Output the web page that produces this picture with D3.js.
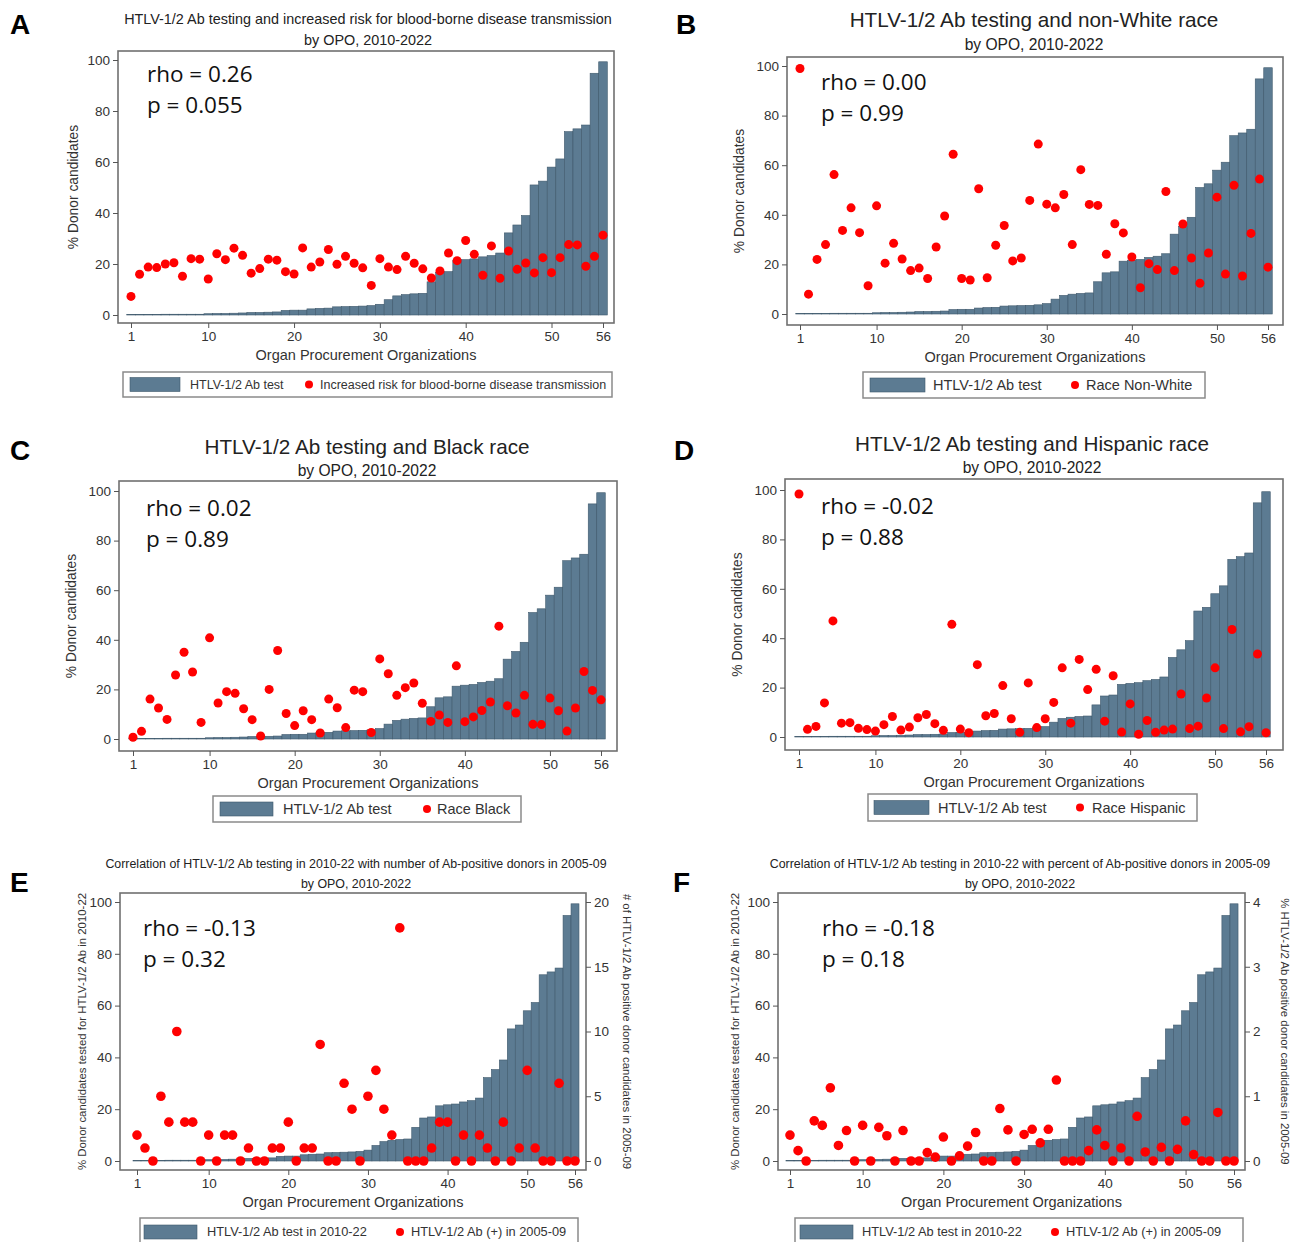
<!DOCTYPE html>
<html>
<head>
<meta charset="utf-8">
<script src="https://cdn.jsdelivr.net/npm/d3@7"></script>
<style>
  body { margin: 0; background: #fff; }
  svg { display: block; }
</style>
</head>
<body>
<div id="chart"></div>
<script>
// OPO rank (x axis categories)
var opo = [1, 2, 3, 4, 5, 6, 7, 8, 9, 10, 11, 12, 13, 14, 15, 16, 17, 18, 19, 20,
    21, 22, 23, 24, 25, 26, 27, 28, 29, 30, 31, 32, 33, 34, 35, 36, 37, 38, 39, 40,
    41, 42, 43, 44, 45, 46, 47, 48, 49, 50, 51, 52, 53, 54, 55, 56];

// % donor candidates tested for HTLV-1/2 Ab (bars, same in every panel)
var abTest = [0.2, 0.2, 0.2, 0.2, 0.3, 0.3, 0.3, 0.3, 0.3, 0.5,
    0.6, 0.6, 0.7, 0.8, 1.0, 1.0, 1.1, 1.2, 1.8, 1.9,
    1.9, 2.4, 2.6, 2.7, 3.2, 3.3, 3.4, 3.5, 3.7, 4.2,
    6.0, 7.5, 8.0, 8.3, 8.5, 13.0, 16.6, 17.0, 21.3, 21.7,
    22.0, 22.8, 23.3, 24.3, 32.2, 35.3, 39.0, 51.0, 52.5, 58.0,
    61.2, 71.9, 73.0, 74.5, 94.8, 99.3];

// red dots
var riskBlood = [7.3, 16, 18.8, 18.6, 20, 20.5, 15.2, 22.1, 21.9, 14.1,
    24, 21.7, 26.2, 23.4, 16.4, 18.2, 21.9, 21.5, 17, 16.1,
    26.3, 18.8, 20.8, 25.7, 19.9, 23, 20.3, 18.5, 11.6, 22.1,
    18.8, 17.8, 23, 20.3, 18.1, 14.5, 17.3, 24.3, 21.3, 29.2,
    23.8, 15.6, 27.1, 14.4, 25.1, 17.9, 20.4, 16.5, 22.5, 16.6,
    22.5, 27.6, 27.5, 19.1, 23, 31.3];

var raceNonWhite = [99, 8, 22, 28, 56.2, 33.7, 42.8, 32.8, 11.4, 43.6,
    20.5, 28.5, 22.2, 17.5, 18.5, 14.3, 27, 39.5, 64.4, 14.3,
    13.7, 50.5, 14.6, 27.7, 35.7, 21.4, 22.6, 45.8, 68.5, 44.3,
    42.8, 48.2, 28, 58.2, 44.2, 43.8, 24.1, 36.4, 32.7, 23,
    10.6, 20.3, 17.9, 49.4, 17.5, 36.3, 22.6, 12.4, 24.6, 47.1,
    16.1, 51.9, 15.3, 32.5, 54.4, 18.9];

var raceBlack = [0.7, 3.1, 16.1, 12.5, 7.9, 25.8, 35, 27, 6.7, 40.8,
    14.5, 19.1, 18.4, 12.2, 7.8, 1.2, 20, 35.7, 10.3, 5.4,
    11.4, 7.8, 2.4, 16.1, 12.6, 4.6, 19.7, 19.1, 2.6, 32.3,
    26.3, 17.6, 20.7, 22.6, 14.4, 7.1, 9.7, 6.7, 29.5, 7,
    8.9, 11.5, 14.9, 45.5, 13.4, 10.5, 17.6, 5.9, 5.8, 16.5,
    11.4, 3.2, 12.5, 27.2, 19.6, 15.8];

var raceHispanic = [98.4, 3.1, 4.3, 13.8, 47, 5.6, 5.8, 3.5, 3, 2.4,
    5, 8.3, 2.8, 4, 7.8, 9.1, 5.4, 2.7, 45.6, 3.2,
    1.7, 29.3, 8.6, 9.5, 20.8, 7.4, 1.9, 21.9, 3.8, 7.4,
    14, 28, 5.6, 31.4, 19.2, 27.4, 6.4, 24.8, 2, 13.4,
    1.1, 6.7, 1.9, 2.8, 3.2, 17.4, 3.4, 4.4, 15.8, 28,
    3.4, 43.5, 2.1, 4.2, 33.6, 1.7];

// # Ab-positive donors 2005-09 (right axis, panel E)
var abPosCount = [2, 1, 0, 5, 3, 10, 3, 3, 0, 2,
    0, 2, 2, 0, 1, 0, 0, 1, 1, 3,
    0, 1, 1, 9, 0, 0, 6, 4, 0, 5,
    7, 4, 2, 18, 0, 0, 0, 1, 3, 3,
    0, 2, 0, 2, 1, 0, 3, 0, 1, 7,
    1, 0, 0, 6, 0, 0];

// % Ab-positive donors 2005-09 (right axis, panel F)
var abPosPct = [0.4, 0.16, 0, 0.62, 0.55, 1.13, 0.24, 0.47, 0, 0.55,
    0, 0.52, 0.39, 0, 0.47, 0, 0, 0.13, 0.06, 0.37,
    0, 0.08, 0.23, 0.44, 0, 0, 0.81, 0.48, 0, 0.41,
    0.49, 0.28, 0.49, 1.25, 0, 0, 0, 0.16, 0.48, 0.24,
    0, 0.2, 0, 0.69, 0.14, 0, 0.21, 0, 0.18, 0.62,
    0.1, 0, 0, 0.75, 0, 0];

var xTicks = [1, 10, 20, 30, 40, 50, 56];
var yTicks = [0, 20, 40, 60, 80, 100];
var countTicks = [0, 5, 10, 15, 20];
var pctTicks = [0, 1, 2, 3, 4];

var barColor = "#5c7b92";
var dotColor = "#ff0000";
var font = "'Liberation Sans', Arial, sans-serif";

var w = 1294;
var h = 1242;

var svg = d3.select("#chart")
    .append("svg")
    .attr("width", w)
    .attr("height", h);

// panel settings (layout only, data comes from the arrays above)
var panels = [
    {
        letter: "A", lx: 10, ly: 34,
        title: ["HTLV-1/2 Ab testing and increased risk for blood-borne disease transmission", "by OPO, 2010-2022"],
        titleSize: [14.4, 14.4], titleX: 368, titleY: [24, 45],
        frame: [118, 51, 614, 323], x1: 131, x56: 603, y0: 315, y100: 60,
        dots: riskBlood, rho: "rho = 0.26", p: "p = 0.055", sx: 147, sy: 82,
        yTitle: "% Donor candidates", yTitleX: 78, yTitleSize: 13.8,
        legend: { box: [123, 372, 612, 397], size: 12.5, text1: "HTLV-1/2 Ab test", text2: "Increased risk for blood-borne disease transmission", sw: [130, 180], t1: 190, dot: 309, t2: 320 }
    },
    {
        letter: "B", lx: 676, ly: 34,
        title: ["HTLV-1/2 Ab testing and non-White race", "by OPO, 2010-2022"],
        titleSize: [20.7, 15.6], titleX: 1034, titleY: [27, 50],
        frame: [787, 57, 1283, 325], x1: 800, x56: 1268, y0: 314, y100: 66,
        dots: raceNonWhite, rho: "rho = 0.00", p: "p = 0.99", sx: 821, sy: 90,
        yTitle: "% Donor candidates", yTitleX: 744, yTitleSize: 13.8,
        legend: { box: [863, 372, 1205, 398], size: 14.5, text1: "HTLV-1/2 Ab test", text2: "Race Non-White", sw: [870, 925], t1: 933, dot: 1075, t2: 1086 }
    },
    {
        letter: "C", lx: 10, ly: 460,
        title: ["HTLV-1/2 Ab testing and Black race", "by OPO, 2010-2022"],
        titleSize: [20.7, 15.6], titleX: 367, titleY: [454, 476],
        frame: [119, 481, 617, 751], x1: 133, x56: 601, y0: 739, y100: 491,
        dots: raceBlack, rho: "rho = 0.02", p: "p = 0.89", sx: 146, sy: 516,
        yTitle: "% Donor candidates", yTitleX: 76, yTitleSize: 13.8,
        legend: { box: [213, 796, 521, 822], size: 14.5, text1: "HTLV-1/2 Ab test", text2: "Race Black", sw: [220, 273], t1: 283, dot: 427, t2: 437 }
    },
    {
        letter: "D", lx: 674, ly: 460,
        title: ["HTLV-1/2 Ab testing and Hispanic race", "by OPO, 2010-2022"],
        titleSize: [20.7, 15.6], titleX: 1032, titleY: [451, 473],
        frame: [785, 479, 1283, 750], x1: 799, x56: 1266, y0: 737, y100: 490,
        dots: raceHispanic, rho: "rho = -0.02", p: "p = 0.88", sx: 821, sy: 514,
        yTitle: "% Donor candidates", yTitleX: 742, yTitleSize: 13.8,
        legend: { box: [868, 794, 1197, 821], size: 14.5, text1: "HTLV-1/2 Ab test", text2: "Race Hispanic", sw: [874, 929], t1: 938, dot: 1080, t2: 1092 }
    },
    {
        letter: "E", lx: 10, ly: 892,
        title: ["Correlation of HTLV-1/2 Ab testing in 2010-22 with number of Ab-positive donors in 2005-09", "by OPO, 2010-2022"],
        titleSize: [12.4, 12.4], titleX: 356, titleY: [868, 888],
        frame: [120, 893, 586, 1170], x1: 137, x56: 575, y0: 1161, y100: 902,
        dots: abPosCount, rightMax: 20, rightTicks: countTicks,
        rho: "rho = -0.13", p: "p = 0.32", sx: 143, sy: 936,
        yTitle: "% Donor candidates tested for HTLV-1/2 Ab in 2010-22", yTitleX: 86, yTitleSize: 11.4,
        rTitle: "# of HTLV-1/2 Ab positive donor candidates in 2005-09", rTitleX: 623,
        legend: { box: [140, 1218, 578, 1246], size: 12.8, text1: "HTLV-1/2 Ab test in 2010-22", text2: "HTLV-1/2 Ab (+) in 2005-09", sw: [144, 197], t1: 207, dot: 400, t2: 411 }
    },
    {
        letter: "F", lx: 673, ly: 892,
        title: ["Correlation of HTLV-1/2 Ab testing in 2010-22 with percent of Ab-positive donors in 2005-09", "by OPO, 2010-2022"],
        titleSize: [12.4, 12.4], titleX: 1020, titleY: [868, 888],
        frame: [778, 893, 1245, 1170], x1: 790, x56: 1234, y0: 1161, y100: 902,
        dots: abPosPct, rightMax: 4, rightTicks: pctTicks,
        rho: "rho = -0.18", p: "p = 0.18", sx: 822, sy: 936,
        yTitle: "% Donor candidates tested for HTLV-1/2 Ab in 2010-22", yTitleX: 739, yTitleSize: 11.4,
        rTitle: "% HTLV-1/2 Ab positive donor candidates in 2005-09", rTitleX: 1281,
        legend: { box: [795, 1218, 1243, 1246], size: 12.8, text1: "HTLV-1/2 Ab test in 2010-22", text2: "HTLV-1/2 Ab (+) in 2005-09", sw: [800, 853], t1: 862, dot: 1055, t2: 1066 }
    }
];

function drawPanel(p) {
    var g = svg.append("g");
    var fr = p.frame;

    var xScale = d3.scaleLinear().domain([1, 56]).range([p.x1, p.x56]);
    var yScale = d3.scaleLinear().domain([0, 100]).range([p.y0, p.y100]);
    var dotScale = p.rightMax
        ? d3.scaleLinear().domain([0, p.rightMax]).range([p.y0, p.y100])
        : yScale;
    var bw = xScale(2) - xScale(1);

    // panel letter
    g.append("text")
        .attr("x", p.lx)
        .attr("y", p.ly)
        .attr("font-family", font)
        .attr("font-weight", "bold")
        .attr("font-size", "28px")
        .text(p.letter);

    // title
    g.selectAll("text.title")
        .data(p.title)
        .enter()
        .append("text")
        .attr("class", "title")
        .attr("x", p.titleX)
        .attr("y", function (d, i) { return p.titleY[i]; })
        .attr("text-anchor", "middle")
        .attr("font-family", font)
        .attr("font-size", function (d, i) { return p.titleSize[i] + "px"; })
        .attr("fill", "#222")
        .text(function (d) { return d; });

    // bars
    g.selectAll("rect.bar")
        .data(abTest)
        .enter()
        .append("rect")
        .attr("class", "bar")
        .attr("x", function (d, i) { return xScale(opo[i]) - bw / 2; })
        .attr("y", function (d) { return yScale(d); })
        .attr("width", bw)
        .attr("height", function (d) { return yScale(0) - yScale(d); })
        .attr("fill", barColor)
        .attr("stroke", "#3f596c")
        .attr("stroke-width", 0.6);

    // dots
    g.selectAll("circle.dot")
        .data(p.dots)
        .enter()
        .append("circle")
        .attr("class", "dot")
        .attr("cx", function (d, i) { return xScale(opo[i]); })
        .attr("cy", function (d) { return dotScale(d); })
        .attr("r", p.rightMax ? 4.8 : 4.5)
        .attr("fill", dotColor);

    // plot frame
    g.append("rect")
        .attr("x", fr[0])
        .attr("y", fr[1])
        .attr("width", fr[2] - fr[0])
        .attr("height", fr[3] - fr[1])
        .attr("fill", "none")
        .attr("stroke", "#707070")
        .attr("stroke-width", 1.6);

    // axes
    var xAxis = d3.axisBottom(xScale).tickValues(xTicks).tickSize(5).tickPadding(3);
    var yAxis = d3.axisLeft(yScale).tickValues(yTicks).tickSize(5).tickPadding(3);

    var gx = g.append("g")
        .attr("transform", "translate(0," + fr[3] + ")")
        .call(xAxis);
    var gy = g.append("g")
        .attr("transform", "translate(" + fr[0] + ",0)")
        .call(yAxis);
    var axes = [gx, gy];

    if (p.rightMax) {
        var rAxis = d3.axisRight(dotScale).tickValues(p.rightTicks)
            .tickFormat(d3.format("d")).tickSize(5).tickPadding(3);
        var gr = g.append("g")
            .attr("transform", "translate(" + fr[2] + ",0)")
            .call(rAxis);
        axes.push(gr);
    }

    axes.forEach(function (a) {
        a.select(".domain").remove();
        a.selectAll("line").attr("stroke", "#555");
        a.selectAll("text")
            .attr("font-family", font)
            .attr("font-size", "13.5px")
            .attr("fill", "#333");
    });

    // x axis title
    g.append("text")
        .attr("x", (fr[0] + fr[2]) / 2)
        .attr("y", fr[3] + 37)
        .attr("text-anchor", "middle")
        .attr("font-family", font)
        .attr("font-size", "14.5px")
        .attr("fill", "#333")
        .text("Organ Procurement Organizations");

    // y axis title
    g.append("text")
        .attr("transform", "translate(" + p.yTitleX + "," + ((fr[1] + fr[3]) / 2) + ") rotate(-90)")
        .attr("text-anchor", "middle")
        .attr("font-family", font)
        .attr("font-size", p.yTitleSize + "px")
        .attr("fill", "#333")
        .text(p.yTitle);

    if (p.rTitle) {
        g.append("text")
            .attr("transform", "translate(" + p.rTitleX + "," + ((fr[1] + fr[3]) / 2) + ") rotate(90)")
            .attr("text-anchor", "middle")
            .attr("font-family", font)
            .attr("font-size", p.yTitleSize + "px")
            .attr("fill", "#333")
            .text(p.rTitle);
    }

    // rho and p
    g.selectAll("text.stat")
        .data([p.rho, p.p])
        .enter()
        .append("text")
        .attr("class", "stat")
        .attr("x", p.sx)
        .attr("y", function (d, i) { return p.sy + i * 31; })
        .attr("font-family", "'Open Sans', 'Noto Sans', sans-serif")
        .attr("font-size", "22.5px")
        .attr("fill", "#111")
        .text(function (d) { return d; });

    // legend
    var lg = p.legend;
    var midY = (lg.box[1] + lg.box[3]) / 2;
    g.append("rect")
        .attr("x", lg.box[0])
        .attr("y", lg.box[1])
        .attr("width", lg.box[2] - lg.box[0])
        .attr("height", lg.box[3] - lg.box[1])
        .attr("fill", "#fff")
        .attr("stroke", "#8a8a8a")
        .attr("stroke-width", 1.5);
    g.append("rect")
        .attr("x", lg.sw[0])
        .attr("y", midY - 7)
        .attr("width", lg.sw[1] - lg.sw[0])
        .attr("height", 14)
        .attr("fill", barColor)
        .attr("stroke", "#3f596c")
        .attr("stroke-width", 0.6);
    g.append("circle")
        .attr("cx", lg.dot)
        .attr("cy", midY)
        .attr("r", 4)
        .attr("fill", dotColor);
    g.selectAll("text.leg")
        .data([[lg.t1, lg.text1], [lg.t2, lg.text2]])
        .enter()
        .append("text")
        .attr("class", "leg")
        .attr("x", function (d) { return d[0]; })
        .attr("y", midY)
        .attr("dy", "0.35em")
        .attr("font-family", font)
        .attr("font-size", lg.size + "px")
        .attr("fill", "#333")
        .text(function (d) { return d[1]; });
}

panels.forEach(drawPanel);
</script>
</body>
</html>
